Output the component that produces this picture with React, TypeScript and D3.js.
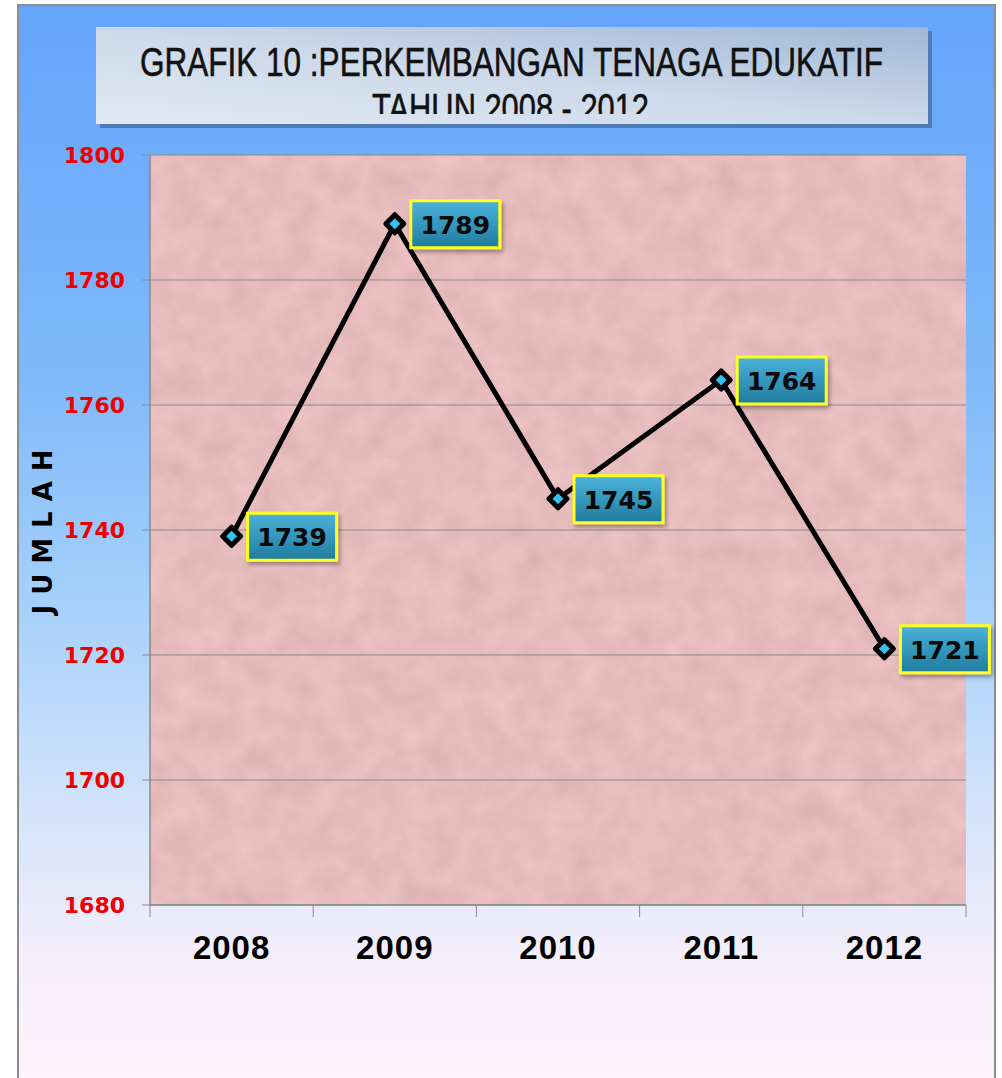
import React from 'react'
import * as d3 from 'd3'

// data
const years = ['2008', '2009', '2010', '2011', '2012']
const jumlah = [1739, 1789, 1745, 1764, 1721]
const yTicks = [1680, 1700, 1720, 1740, 1760, 1780, 1800]
const titleLines = ['GRAFIK 10 :PERKEMBANGAN TENAGA EDUKATIF', 'TAHUN 2008 - 2012']
const yTitle = 'JUMLAH'

function App() {
    const width = 1002
    const height = 1078
    const plot = { left: 150, right: 966, top: 155, bottom: 905 }

    const x = d3.scaleBand().domain(years).range([plot.left, plot.right])
    const y = d3.scaleLinear().domain([1680, 1800]).range([plot.bottom, plot.top])
    const cx = (d: string) => (x(d) as number) + x.bandwidth() / 2

    const points = years.map((d, i) => ({ year: d, value: jumlah[i] }))
    const line = d3
        .line<{ year: string; value: number }>()
        .x(d => cx(d.year))
        .y(d => y(d.value))

    const bounds = years.map(d => x(d) as number).concat([plot.right])
    const boldFont = '"DejaVu Sans", Verdana, sans-serif'

    return (
        <svg
            width={width}
            height={height}
            style={{ position: 'absolute', left: 0, top: 0, display: 'block' }}
        >
            <defs>
                <linearGradient id="bg" x1="0" y1="0" x2="0" y2="1">
                    <stop offset="0" stopColor="#64a4fa" />
                    <stop offset="0.35" stopColor="#80b9fa" />
                    <stop offset="0.55" stopColor="#a4d0fb" />
                    <stop offset="0.75" stopColor="#d4e4fb" />
                    <stop offset="0.88" stopColor="#f4eefb" />
                    <stop offset="1" stopColor="#fff4fb" />
                </linearGradient>
                <linearGradient id="titleGrad" x1="0" y1="1" x2="1" y2="0">
                    <stop offset="0" stopColor="#e2eaf4" />
                    <stop offset="0.5" stopColor="#ccd9ea" />
                    <stop offset="1" stopColor="#9fb7d6" />
                </linearGradient>
                <linearGradient id="boxGrad" x1="0" y1="0" x2="0" y2="1">
                    <stop offset="0" stopColor="#4cb2da" />
                    <stop offset="1" stopColor="#1f7c9e" />
                </linearGradient>
                <filter id="tex" x="0" y="0" width="1" height="1" colorInterpolationFilters="sRGB">
                    <feTurbulence type="fractalNoise" baseFrequency="0.035" numOctaves="3" seed="7" />
                    <feColorMatrix
                        type="matrix"
                        values="0.1 0 0 0 0.855  0.1 0 0 0 0.685  0.1 0 0 0 0.69  0 0 0 0 1"
                    />
                </filter>
                <filter id="shadow" x="-10%" y="-10%" width="130%" height="140%">
                    <feDropShadow dx="2" dy="3" stdDeviation="2" floodColor="#000" floodOpacity="0.35" />
                </filter>
                <clipPath id="titleClip">
                    <rect x={96} y={27} width={832} height={87} />
                </clipPath>
            </defs>

            {/* background panel */}
            <rect x={18} y={5} width={977} height={height} fill="url(#bg)" stroke="#8c8c8c" strokeWidth={2} />

            {/* title box */}
            <rect x={100} y={31} width={832} height={97} fill="#4d7bb6" />
            <rect x={96} y={27} width={832} height={97} fill="url(#titleGrad)" />
            <g
                clipPath="url(#titleClip)"
                fontFamily='"Liberation Sans Narrow", "Arial Narrow", "Liberation Sans", sans-serif'
                fontSize={41}
                fill="#111"
                stroke="#111"
                strokeWidth={0.6}
            >
                <text x={140} y={76} textLength={743} lengthAdjust="spacingAndGlyphs">{titleLines[0]}</text>
                <text x={372} y={122} textLength={277} lengthAdjust="spacingAndGlyphs">{titleLines[1]}</text>
            </g>

            {/* plot area */}
            <rect
                x={plot.left}
                y={plot.top}
                width={plot.right - plot.left}
                height={plot.bottom - plot.top}
                fill="#e6b9ba"
                filter="url(#tex)"
            />

            {/* grid lines */}
            {yTicks.map(t => (
                <line key={'g' + t} x1={plot.left - 8} x2={plot.right} y1={y(t)} y2={y(t)} stroke="#8a8a8a" strokeWidth={1} />
            ))}
            <line x1={plot.left} x2={plot.left} y1={plot.top} y2={plot.bottom} stroke="#8a8a8a" strokeWidth={1.5} />
            <line x1={plot.left} x2={plot.right} y1={plot.bottom} y2={plot.bottom} stroke="#8a8a8a" strokeWidth={1.5} />
            {bounds.map((b, i) => (
                <line key={'xt' + i} x1={b} x2={b} y1={plot.bottom} y2={plot.bottom + 12} stroke="#8a8a8a" strokeWidth={1} />
            ))}

            {/* y tick labels */}
            {yTicks.map(t => (
                <text
                    key={'yl' + t}
                    x={125}
                    y={y(t) + 8}
                    textAnchor="end"
                    fontFamily={boldFont}
                    fontWeight="bold"
                    fontSize={22}
                    fill="#ee0000"
                >
                    {t}
                </text>
            ))}

            {/* x labels */}
            {years.map(d => (
                <text
                    key={'xl' + d}
                    x={cx(d)}
                    y={959}
                    textAnchor="middle"
                    fontFamily='"Liberation Sans", Arial, sans-serif'
                    fontWeight="bold"
                    fontSize={33}
                    letterSpacing={1}
                    fill="#000"
                >
                    {d}
                </text>
            ))}

            {/* y axis title */}
            <text
                transform="translate(52, 527) rotate(-90)"
                textAnchor="middle"
                fontFamily={boldFont}
                fontWeight="bold"
                fontSize={26}
                letterSpacing={10}
                fill="#000"
            >
                {yTitle}
            </text>

            {/* line */}
            <path d={line(points) || ''} fill="none" stroke="#000" strokeWidth={5} strokeLinejoin="round" />

            {/* markers */}
            {points.map(p => {
                const px = cx(p.year)
                const py = y(p.value)
                const r = 9
                return (
                    <path
                        key={'m' + p.year}
                        d={`M${px},${py - r}L${px + r},${py}L${px},${py + r}L${px - r},${py}Z`}
                        fill="#35c0f0"
                        stroke="#000"
                        strokeWidth={5}
                        strokeLinejoin="round"
                    />
                )
            })}

            {/* data labels */}
            {points.map(p => {
                const px = cx(p.year) + 16
                const py = y(p.value)
                return (
                    <g key={'lb' + p.year}>
                        <rect
                            x={px}
                            y={py - 23}
                            width={89}
                            height={47}
                            fill="url(#boxGrad)"
                            stroke="#ffff22"
                            strokeWidth={3}
                            filter="url(#shadow)"
                        />
                        <text
                            x={px + 44.5}
                            y={py + 10}
                            textAnchor="middle"
                            fontFamily={boldFont}
                            fontWeight="bold"
                            fontSize={25}
                            fill="#0a0a0a"
                        >
                            {p.value}
                        </text>
                    </g>
                )
            })}
        </svg>
    )
}

export default App
